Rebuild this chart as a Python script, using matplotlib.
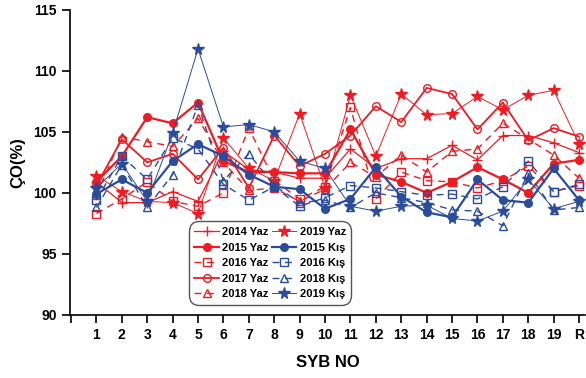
import numpy as np
import matplotlib.pyplot as plt

plt.rcParams['font.family'] = ['Liberation Sans', 'DejaVu Sans']

# SYB stations
stations = ['1', '2', '3', '4', '5', '6', '7', '8', '9', '10',
            '11', '12', '13', '14', '15', '16', '17', '18', '19', 'R']

# dissolved oxygen saturation (%) per station
yaz_2014 = [100.9, 99.2, 99.2, 100.1, 99.3, 103.4, 101.9, 101.7, 101.2, 101.2,
            103.6, 102.0, 102.8, 102.8, 103.9, 102.7, 104.7, 104.7, 104.1, 103.3]
yaz_2015 = [100.9, 103.0, 106.2, 105.7, 107.4, 102.6, 101.7, 101.7, 101.6, 101.6,
            105.2, 101.5, 100.9, 100.0, 100.9, 102.1, 101.1, 100.0, 102.4, 102.7]
yaz_2016 = [98.3, 99.5, 100.9, 99.3, 98.9, 100.0, 105.3, 101.0, 99.5, 100.5,
            107.0, 99.5, 101.7, 101.0, 100.9, 100.4, 101.0, 102.2, 100.1, 100.6]
yaz_2017 = [100.6, 104.4, 102.5, 103.2, 101.1, 103.7, 100.4, 104.7, 102.2, 103.2,
            104.7, 107.1, 105.8, 108.6, 108.1, 105.2, 107.4, 104.3, 105.3, 104.6]
yaz_2018 = [99.8, 104.6, 104.2, 103.8, 106.1, 102.5, 100.2, 100.4, 99.3, 100.3,
            102.5, 101.3, 103.1, 101.7, 103.4, 103.6, 105.7, 104.4, 103.1, 101.2]
yaz_2019 = [101.4, 100.1, 99.3, 99.2, 98.3, 104.5, 102.0, 101.0, 106.5, 100.4,
            108.0, 103.0, 108.1, 106.4, 106.5, 107.9, 106.8, 108.0, 108.4, 104.0]
kis_2015 = [99.9, 101.1, 100.0, 102.6, 104.0, 103.0, 101.5, 100.5, 100.3, 98.7,
            99.5, 102.1, 99.7, 98.4, 98.0, 101.1, 99.4, 99.2, 102.0, 99.4]
kis_2016 = [99.4, 103.0, 101.1, 104.5, 103.6, 100.7, 99.4, 100.5, 98.9, 99.6,
            100.6, 100.4, 100.1, 99.8, 99.9, 99.5, 100.5, 102.6, 100.1, 100.7]
kis_2018 = [98.8, 102.3, 98.8, 101.5, 107.2, 101.0, 103.2, 100.6, 99.2, 99.4,
            98.8, 100.0, 99.6, 99.2, 98.6, 98.5, 97.3, 101.6, 98.6, 98.8]
kis_2019 = [100.4, 102.4, 99.3, 104.9, 111.8, 105.4, 105.6, 105.0, 102.6, 102.0,
            98.9, 98.5, 98.9, 99.0, 97.9, 97.7, 98.5, 101.1, 98.7, 99.3]

red = '#ED1C24'
blue = '#2B4C9B'
x = np.arange(1, len(stations) + 1)

series = [
    ('2014 Yaz', yaz_2014, red, '-', '+', 0.9, 'full'),
    ('2015 Yaz', yaz_2015, red, '-', 'o', 1.6, 'full'),
    ('2016 Yaz', yaz_2016, red, (0, (5, 4)), 's', 1.0, 'none'),
    ('2017 Yaz', yaz_2017, red, '-', 'o', 1.3, 'none'),
    ('2018 Yaz', yaz_2018, red, (0, (5, 4)), '^', 1.0, 'none'),
    ('2019 Yaz', yaz_2019, red, '-', '*', 0.7, 'full'),
    ('2015 Kış', kis_2015, blue, '-', 'o', 1.6, 'full'),
    ('2016 Kış', kis_2016, blue, (0, (5, 4)), 's', 1.0, 'none'),
    ('2018 Kış', kis_2018, blue, (0, (5, 4)), '^', 1.0, 'none'),
    ('2019 Kış', kis_2019, blue, '-', '*', 0.7, 'full'),
]

fig = plt.figure(figsize=(5.86, 3.78), dpi=100)
ax = fig.add_axes([0.119, 0.167, 0.88, 0.807])

for label, vals, c, ls, mk, lw, fill in series:
    ms = 8.5 if mk == '*' else (7 if mk == '+' else 5.5)
    ax.plot(x, vals, color=c, linestyle=ls, linewidth=lw, marker=mk,
            markersize=ms, fillstyle=fill, markerfacecolor=c if fill == 'full' else 'none',
            markeredgecolor=c, markeredgewidth=1.0, label=label)

ax.set_xlim(-0.05, 20.25)
ax.set_ylim(90, 115)
ax.set_xticks(np.arange(0, 21))
ax.set_xticklabels([''] + stations)
ax.set_yticks([90, 95, 100, 105, 110, 115])
ax.spines['top'].set_visible(False)
ax.spines['right'].set_visible(False)
ax.spines['left'].set_linewidth(1.2)
ax.spines['bottom'].set_linewidth(1.2)
ax.tick_params(direction='out', length=6, width=1.2, labelsize=10)
for t in ax.get_xticklabels() + ax.get_yticklabels():
    t.set_fontweight('bold')

ax.set_xlabel('SYB NO', fontsize=12, fontweight='bold', labelpad=9)
ax.set_ylabel('ÇO(%)', fontsize=12, fontweight='bold', labelpad=6)

leg = ax.legend(ncol=2, loc='lower left', bbox_to_anchor=(0.22, 0.015),
                prop={'weight': 'bold', 'size': 8},
                handlelength=2.2, columnspacing=0.3, handletextpad=0.3,
                labelspacing=0.5, borderpad=0.5, fancybox=True,
                framealpha=1, edgecolor='#555555')
leg.get_frame().set_linewidth(1.0)
leg.get_frame().set_boxstyle('round', pad=0, rounding_size=0.9)

fig.savefig('out.png', dpi=100)
